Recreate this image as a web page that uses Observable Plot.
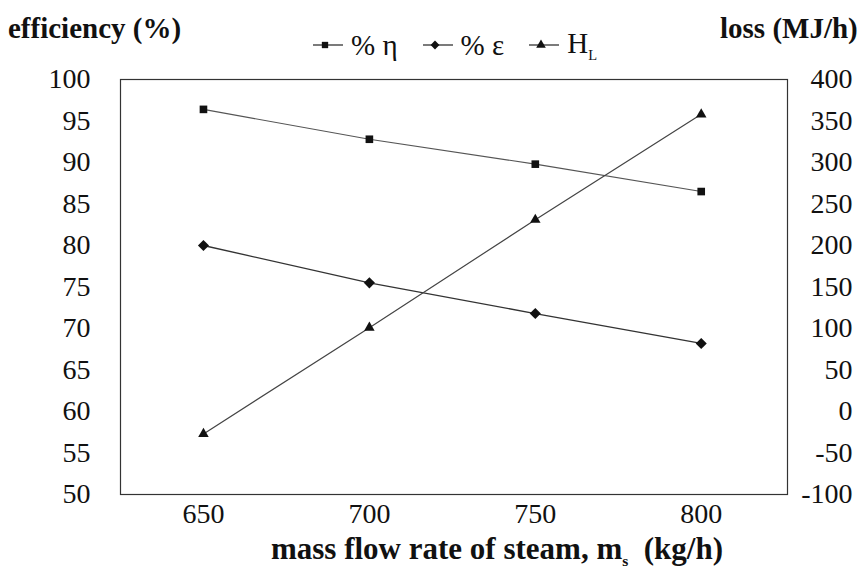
<!DOCTYPE html>
<html>
<head>
<meta charset="utf-8">
<script src="https://cdn.jsdelivr.net/npm/d3@7"></script>
<script src="https://cdn.jsdelivr.net/npm/@observablehq/plot@0.6"></script>
<style>
  html, body { margin: 0; padding: 0; background: #fff; }
  #wrap { position: relative; width: 866px; height: 573px; font-family: "Liberation Serif", "Times New Roman", serif; color: #111; }
  .title { position: absolute; font-weight: bold; font-size: 29px; white-space: nowrap; }
  #legend { position: absolute; left: 312px; top: 27px; font-size: 29px; display: flex; align-items: center; white-space: nowrap; }
  #legend .item { display: flex; align-items: center; margin-right: 24px; }
  #legend svg { margin-right: 7px; }
  #xlabel { position: absolute; left: 0; width: 994px; text-align: center; top: 531px; font-weight: bold; font-size: 31px; white-space: nowrap; }
  sub { font-size: 50%; }
</style>
</head>
<body>
<div id="wrap">
  <div class="title" style="left:8px; top:12px;">efficiency (%)</div>
  <div class="title" style="left:720px; top:12px;">loss (MJ/h)</div>
  <div id="legend"></div>
  <div id="xlabel">mass flow rate of steam, m<sub>s</sub> &nbsp;(kg/h)</div>
</div>
<script>
// ---- data ----
const massFlow   = [650, 700, 750, 800];          // kg/h
const etaPct     = [96.4, 92.8, 89.8, 86.5];      // % η  (left axis)
const epsPct     = [80.0, 75.5, 71.8, 68.2];      // % ε  (left axis)
const heatLoss   = [-27, 101, 231, 358];          // H_L, MJ/h (right axis)
const seriesNames = ["% η", "% ε", "H_L"];
const xTicks     = [650, 700, 750, 800];
const leftTicks  = [50, 55, 60, 65, 70, 75, 80, 85, 90, 95, 100];
const rightTicks = [-100, -50, 0, 50, 100, 150, 200, 250, 300, 350, 400];

// right axis (loss) mapped onto the left efficiency scale: -100..400 -> 50..100
const lossToLeft = v => 50 + (v + 100) / 10;
const leftToLoss = v => Math.round((v - 50) * 10 - 100);

const eta = massFlow.map((x, i) => ({x, y: etaPct[i]}));
const eps = massFlow.map((x, i) => ({x, y: epsPct[i]}));
const loss = massFlow.map((x, i) => ({x, loss: heatLoss[i]}));

const fontFam = "'Liberation Serif', 'Times New Roman', serif";

const chart = Plot.plot({
  width: 866,
  height: 573,
  marginLeft: 120,
  marginRight: 79,
  marginTop: 79,
  marginBottom: 79,
  style: {fontFamily: fontFam, fontSize: "28px", color: "#111", background: "white"},
  x: {domain: [625, 826], label: null},
  y: {domain: [50, 100], label: null},
  marks: [
    Plot.frame({stroke: "#333", strokeWidth: 1.2}),
    Plot.axisX({ticks: xTicks, tickSize: 0, tickPadding: 9, label: null, fontSize: 28, fontFamily: fontFam}),
    Plot.axisY({ticks: leftTicks, tickSize: 0, tickPadding: 30, label: null, fontSize: 28, fontFamily: fontFam}),
    Plot.axisY({anchor: "right", ticks: rightTicks.map(lossToLeft), tickFormat: leftToLoss,
                tickSize: 0, tickPadding: 0, textAnchor: "end", dx: 65, label: null, fontSize: 28, fontFamily: fontFam}),
    Plot.line(eta, {x: "x", y: "y", stroke: "#555", strokeWidth: 1.1}),
    Plot.line(eps, {x: "x", y: "y", stroke: "#333", strokeWidth: 1.3}),
    Plot.line(loss, {x: "x", y: d => lossToLeft(d.loss), stroke: "#444", strokeWidth: 1.2}),
    Plot.dot(eta, {x: "x", y: "y", symbol: "square", r: 4.3, fill: "#111", stroke: "none"}),
    Plot.dot(eps, {x: "x", y: "y", symbol: "diamond2", r: 5, fill: "#111", stroke: "none"}),
    Plot.dot(loss, {x: "x", y: d => lossToLeft(d.loss), symbol: "triangle", r: 3.9, fill: "#111", stroke: "none"})
  ]
});
document.getElementById("wrap").prepend(chart);
chart.style.position = "absolute";
chart.style.left = "0";
chart.style.top = "0";

// legend
const symPaths = {
  "% η": d3.symbol(d3.symbolSquare, 40)(),
  "% ε": d3.symbol(d3.symbolDiamond2, 50)(),
  "H_L": d3.symbol(d3.symbolTriangle, 40)()
};
const legend = document.getElementById("legend");
seriesNames.forEach(name => {
  const item = document.createElement("div");
  item.className = "item";
  const label = name === "H_L" ? "H<sub>L</sub>" : name;
  item.innerHTML =
    `<svg width="32" height="14" viewBox="0 0 32 14"><line x1="1" y1="7" x2="31" y2="7" stroke="#333" stroke-width="1.3"/>` +
    `<path d="${symPaths[name]}" transform="translate(13,7)" fill="#111"/></svg><span>${label}</span>`;
  legend.appendChild(item);
});
</script>
</body>
</html>
